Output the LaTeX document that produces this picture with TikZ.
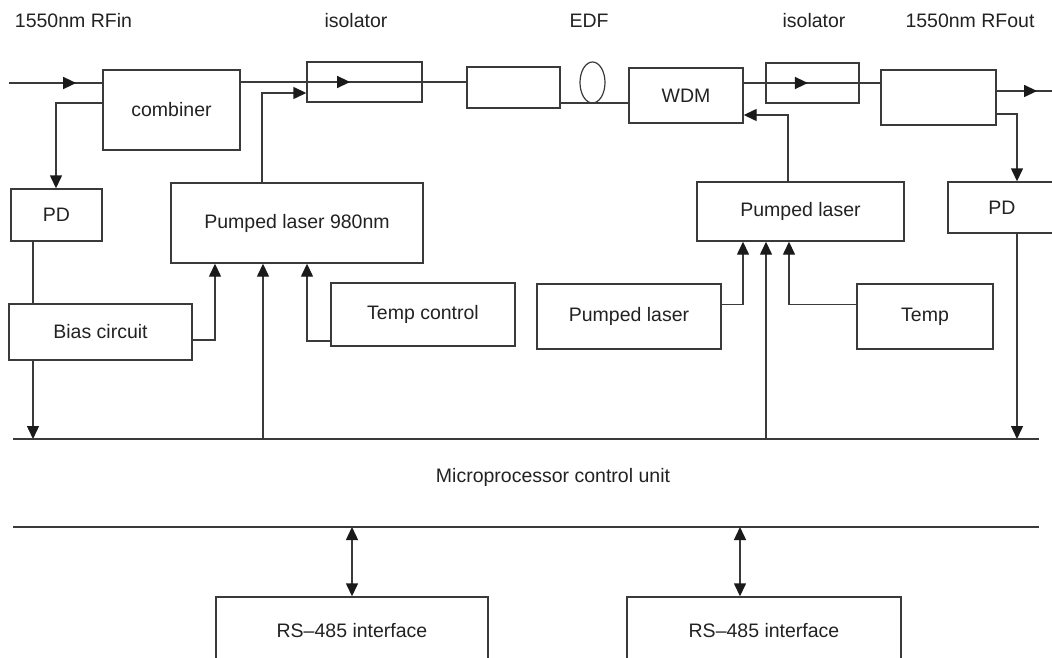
\documentclass[tikz,border=0pt]{standalone}
\usepackage{fontspec}
\setmainfont{Liberation Sans}
\usetikzlibrary{arrows.meta,decorations.markings,shapes.geometric}
\definecolor{ln}{HTML}{3A3A3A}
\definecolor{tx}{HTML}{222222}
\definecolor{tip}{HTML}{1A1A1A}
\tikzset{
  box/.style={draw=ln, line width=1.4pt, rectangle, inner sep=0pt, text=tx,
    font=\fontsize{19.5}{22}\selectfont},
  lbl/.style={inner sep=0pt, text=tx, font=\fontsize{19.5}{22}\selectfont},
  wire/.style={draw=ln, line width=1.4pt},
  tipshape/.style={},
  arr/.style={wire, -{Triangle[length=13pt,width=12pt,color=tip]}},
  dbl/.style={wire, {Triangle[length=13pt,width=12pt,color=tip]}-{Triangle[length=13pt,width=12pt,color=tip]}},
  midarr/.style={wire, postaction={decorate}, decoration={markings,
    mark=at position #1 with {\arrow{Triangle[length=13pt,width=12pt,color=tip]}}}}
}
\begin{document}
\begin{tikzpicture}[x=1pt,y=-1pt]
\useasboundingbox (0,0) rectangle (1052,658);
% top labels
\node[lbl] (lrfin) at (73.5,21) {1550nm RFin};
\node[lbl] (liso1) at (356,21) {isolator};
\node[lbl] (ledf) at (589,21) {EDF};
\node[lbl] (liso2) at (814,21) {isolator};
\node[lbl] (lrfout) at (970,21) {1550nm RFout};
% boxes
\node[box, minimum width=137, minimum height=80] (comb) at (171.5,110) {combiner};
\node[box, minimum width=115, minimum height=40] (iso1) at (364.5,82) {};
\node[box, minimum width=93, minimum height=41] (edf) at (513.5,87.5) {};
\node[draw=ln, line width=1.2pt, ellipse, inner sep=0pt, minimum width=25, minimum height=41] (fib) at (592.5,82.5) {};
\node[box, minimum width=114, minimum height=55] (wdm) at (686,95.5) {WDM};
\node[box, minimum width=93, minimum height=40] (iso2) at (812.5,83) {};
\node[box, minimum width=115, minimum height=55] (outb) at (938.5,97.5) {};
\node[box, minimum width=91, minimum height=52] (pdL) at (56.5,215) {PD};
\node[box, minimum width=252, minimum height=80] (pump1) at (297,223) {Pumped laser 980nm};
\node[box, minimum width=108, minimum height=51] (pdR) at (1002,207.5) {PD};
\node[box, minimum width=207, minimum height=59] (pump2) at (800.5,211.5) {Pumped laser};
\node[box, minimum width=183, minimum height=56] (bias) at (100.5,332) {Bias circuit};
\node[box, minimum width=184, minimum height=63] (tempc) at (423,314.5) {Temp control};
\node[box, minimum width=184, minimum height=65] (pumpL) at (629,316.5) {Pumped laser};
\node[box, minimum width=136, minimum height=65] (temp) at (925,316.5) {Temp};
\node[box, minimum width=272, minimum height=68] (rs1) at (352,631) {RS--485 interface};
\node[box, minimum width=274, minimum height=68] (rs2) at (764,631) {RS--485 interface};
\node[lbl] (mcu) at (553,477) {Microprocessor control unit};
% helper coordinates
\coordinate (cin) at (9,83);
\coordinate (p1) at (262,93);
\coordinate (f1) at (560,103);
\coordinate (o1) at (1052,91);
\coordinate (o2) at (1017,114);
\coordinate (w1) at (788,115);
\coordinate (c2) at (56,103);
\coordinate (x33) at (33,400);
\coordinate (b2) at (215,340);
\coordinate (x263) at (263,439);
\coordinate (t1) at (307,341);
\coordinate (q1) at (743,304.5);
\coordinate (x766) at (766,439);
\coordinate (q3) at (789,304.5);
\coordinate (bL) at (13,439);
\coordinate (bR) at (1039,439);
\coordinate (dL) at (13,527);
\coordinate (dR) at (1039,527);
\coordinate (d2) at (740,527);
% optical path
\draw[midarr=0.72] (cin) -- (comb.west |- cin);
\draw[midarr=0.485] (comb.east |- iso1.center) -- (edf.west |- iso1.center);
\draw[arr] (pump1.north -| p1) |- (iso1.west |- p1);
\draw[wire] (edf.east |- f1) -- (wdm.west |- f1);
\draw[midarr=0.47] (wdm.east |- iso2.center) -- (outb.west |- iso2.center);
\draw[midarr=0.73] (outb.east |- o1) -- (o1);
\draw[arr] (outb.east |- o2) -| (pdR.north -| o2);
\draw[arr] (pump2.north -| w1) |- (wdm.east |- w1);
\draw[arr] (comb.west |- c2) -| (pdL.north -| c2);
% control
\draw[wire] (pdL.south -| x33) -- (bias.north -| x33);
\draw[arr] (bias.south -| x33) -- (x33 |- bL);
\draw[arr] (bias.east |- b2) -| (pump1.south -| b2);
\draw[arr] (x263) -- (pump1.south -| x263);
\draw[arr] (tempc.west |- t1) -| (pump1.south -| t1);
\draw[arr] (pumpL.east |- q1) -| (pump2.south -| q1);
\draw[arr] (x766) -- (pump2.south -| x766);
\draw[arr] (temp.west |- q3) -| (pump2.south -| q3);
\draw[arr] (pdR.south -| o2) -- (o2 |- bL);
% buses
\draw[wire] (bL) -- (bR);
\draw[wire] (dL) -- (dR);
\draw[dbl] (rs1.north |- dL) -- (rs1.north);
\draw[dbl] (d2) -- (rs2.north -| d2);
\end{tikzpicture}
\end{document}
